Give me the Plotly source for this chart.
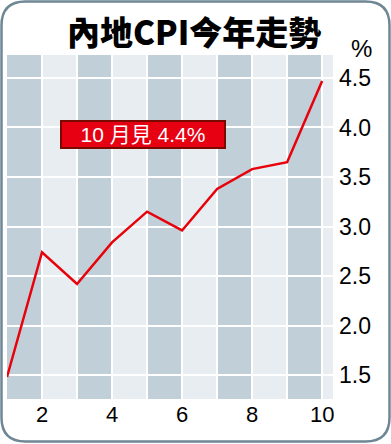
import plotly.graph_objects as go

months = [1, 2, 3, 4, 5, 6, 7, 8, 9, 10]
cpi = [1.48, 2.74, 2.42, 2.84, 3.15, 2.96, 3.38, 3.58, 3.65, 4.47]
x_ticks = [2, 4, 6, 8, 10]
y_ticks = [1.5, 2.0, 2.5, 3.0, 3.5, 4.0, 4.5]
y_tick_labels = ["1.5", "2.0", "2.5", "3.0", "3.5", "4.0", "4.5"]
dark_bands = [(1, 2), (3, 4), (5, 6), (7, 8), (9, 10)]
title_text = "內地CPI今年走勢"
note_text = "10 月見 4.4%"

W, H = 391, 444
ML, MR, MT, MB = 7, 58, 55, 45
PW, PH = W - ML - MR, H - MT - MB


def px(x):
    return (x - ML) / PW


def py(y):
    return (H - MB - y) / PH


fig = go.Figure()
fig.add_trace(go.Scatter(x=months, y=cpi, mode="lines",
                         line=dict(color="#e8000b", width=2.5),
                         hoverinfo="skip", showlegend=False))

shapes = []
for a, b in dark_bands:
    shapes.append(dict(type="rect", xref="x", yref="paper", x0=a, x1=b, y0=0, y1=1,
                       fillcolor="#c1d0d8", line=dict(width=0), layer="below"))

# rounded border around whole graphic
l, r, t, bt, rad = 1.5, 389.5, 1.5, 441.5, 24
pts = [
    ("M", (l + rad, t)), ("L", (r - rad, t)), ("Q", (r, t), (r, t + rad)),
    ("L", (r, bt - rad)), ("Q", (r, bt), (r - rad, bt)),
    ("L", (l + rad, bt)), ("Q", (l, bt), (l, bt - rad)),
    ("L", (l, t + rad)), ("Q", (l, t), (l + rad, t)),
]
path = ""
for item in pts:
    cmd = item[0]
    coords = " ".join(f"{px(p[0]):.5f},{py(p[1]):.5f}" for p in item[1:])
    path += f"{cmd} {coords} "
path += "Z"
shapes.append(dict(type="path", xref="paper", yref="paper", path=path,
                   line=dict(color="#6f8795", width=2.5), fillcolor="rgba(0,0,0,0)",
                   layer="above"))

annotations = [
    dict(text=title_text, xref="paper", yref="paper", x=px(194), y=py(31),
         showarrow=False, xanchor="center", yanchor="middle",
         font=dict(family="Noto Sans CJK TC", size=33, color="#000000", weight=900)),
    dict(text="%", xref="paper", yref="paper", x=px(361), y=py(49),
         showarrow=False, xanchor="center", yanchor="middle",
         font=dict(family="Liberation Sans, Arial", size=24, color="#000000")),
    dict(text=note_text, xref="paper", yref="paper", x=px(143), y=py(134.5),
         showarrow=False, xanchor="center", yanchor="middle",
         width=162, height=25, bgcolor="#e60012", bordercolor="#7a0a00",
         borderwidth=2, borderpad=0,
         font=dict(family="Liberation Sans, Noto Sans CJK TC", size=21, color="#ffffff")),
]

fig.update_layout(
    width=W, height=H,
    margin=dict(l=ML, r=MR, t=MT, b=MB, pad=0),
    paper_bgcolor="#ffffff", plot_bgcolor="#e8edf1",
    shapes=shapes, annotations=annotations,
    xaxis=dict(range=[1, 10.31], tickvals=x_ticks, ticktext=[str(v) for v in x_ticks],
               showgrid=True, gridcolor="#ffffff", gridwidth=2,
               zeroline=False, showline=False, ticks="",
               tickfont=dict(family="Liberation Sans, Arial", size=22, color="#000000"),
               fixedrange=True),
    yaxis=dict(range=[1.258, 4.732], side="right", tickvals=y_ticks, ticktext=y_tick_labels,
               showgrid=True, gridcolor="#ffffff", gridwidth=2,
               zeroline=False, showline=False, ticks="", ticklabelstandoff=5,
               tickfont=dict(family="Liberation Sans, Arial", size=23, color="#000000"),
               fixedrange=True),
)
# vertical gridlines at every month
fig.update_xaxes(minor=dict(tickvals=[3, 5, 7, 9], showgrid=True, gridcolor="#ffffff", gridwidth=2))

fig.write_html("out.html")
